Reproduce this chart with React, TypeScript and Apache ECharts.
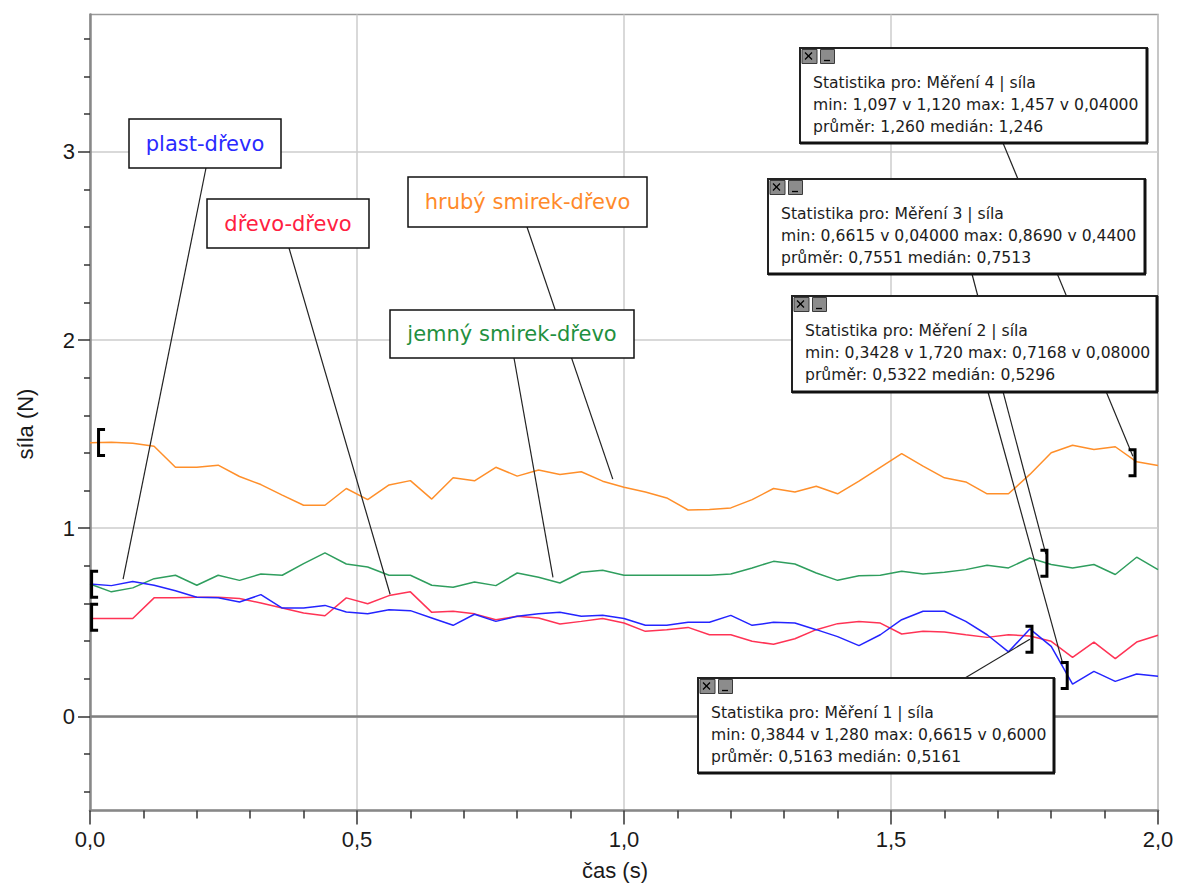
import React, { useEffect, useRef } from "react";
import * as echarts from "echarts";

// time stamps (s), sampled every 0.04 s
const times = [
  0, 0.04, 0.08, 0.12, 0.16, 0.2, 0.24, 0.28, 0.32, 0.36, 0.4, 0.44, 0.48, 0.52, 0.56, 0.6, 0.64,
  0.68, 0.72, 0.76, 0.8, 0.84, 0.88, 0.92, 0.96, 1.0, 1.04, 1.08, 1.12, 1.16, 1.2, 1.24, 1.28,
  1.32, 1.36, 1.4, 1.44, 1.48, 1.52, 1.56, 1.6, 1.64, 1.68, 1.72, 1.76, 1.8, 1.84, 1.88, 1.92,
  1.96, 2.0,
];

// Měření 1 – dřevo-dřevo (red)
const drevoDrevo = [
  0.52, 0.52, 0.52, 0.63, 0.63, 0.633, 0.633, 0.626, 0.603, 0.576, 0.55, 0.535, 0.63, 0.599, 0.642,
  0.662, 0.553, 0.559, 0.545, 0.514, 0.532, 0.523, 0.491, 0.505, 0.52, 0.496, 0.452, 0.461, 0.473,
  0.434, 0.434, 0.399, 0.384, 0.413, 0.461, 0.493, 0.505, 0.496, 0.438, 0.452, 0.449, 0.434, 0.42,
  0.434, 0.427, 0.399, 0.314, 0.395, 0.307, 0.395, 0.431,
];

// Měření 2 – plast-dřevo (blue)
const plastDrevo = [
  0.704, 0.695, 0.717, 0.697, 0.668, 0.633, 0.63, 0.608, 0.647, 0.576, 0.576, 0.59, 0.555, 0.546,
  0.567, 0.562, 0.523, 0.484, 0.543, 0.505, 0.532, 0.546, 0.553, 0.532, 0.537, 0.52, 0.484, 0.484,
  0.5, 0.5, 0.537, 0.484, 0.5, 0.496, 0.461, 0.424, 0.376, 0.434, 0.514, 0.559, 0.559, 0.505, 0.434,
  0.343, 0.465, 0.372, 0.172, 0.239, 0.186, 0.225, 0.213,
];

// Měření 3 – jemný smirek-dřevo (green)
const jemnySmirek = [
  0.704, 0.662, 0.683, 0.732, 0.75, 0.697, 0.75, 0.723, 0.757, 0.75, 0.812, 0.869, 0.81, 0.794,
  0.75, 0.75, 0.697, 0.686, 0.714, 0.695, 0.762, 0.739, 0.709, 0.766, 0.777, 0.75, 0.75, 0.75, 0.75,
  0.75, 0.757, 0.789, 0.824, 0.81, 0.762, 0.723, 0.748, 0.75, 0.771, 0.757, 0.766, 0.78, 0.803,
  0.789, 0.842, 0.807, 0.789, 0.807, 0.754, 0.846, 0.78,
];

// Měření 4 – hrubý smirek-dřevo (orange)
const hrubySmirek = [
  1.454, 1.457, 1.452, 1.436, 1.324, 1.324, 1.335, 1.275, 1.232, 1.176, 1.122, 1.122, 1.211, 1.152,
  1.23, 1.253, 1.155, 1.268, 1.252, 1.324, 1.277, 1.309, 1.286, 1.3, 1.25, 1.218, 1.193, 1.161,
  1.097, 1.099, 1.108, 1.152, 1.211, 1.193, 1.223, 1.183, 1.25, 1.324, 1.397, 1.33, 1.268, 1.246,
  1.183, 1.183, 1.286, 1.401, 1.441, 1.418, 1.433, 1.353, 1.333,
];

const seriesNames = ["dřevo-dřevo", "jemný smirek-dřevo", "plast-dřevo", "hrubý smirek-dřevo"];
const seriesData = [drevoDrevo, jemnySmirek, plastDrevo, hrubySmirek];
const seriesColors = ["#ff3355", "#2f9e5e", "#2424ff", "#ff8f2a"];

const yLabelValues = [0, 1, 2, 3];

// labels: text, colour
const labelTexts = ["plast-dřevo", "dřevo-dřevo", "hrubý smirek-dřevo", "jemný smirek-dřevo"];
const labelColors = ["#2a2aff", "#ff2040", "#ff8a2a", "#1f9040"];

const statTexts = [
  ["Statistika pro: Měření 4 | síla", "min: 1,097 v 1,120 max: 1,457 v 0,04000", "průměr: 1,260 medián: 1,246"],
  ["Statistika pro: Měření 3 | síla", "min: 0,6615 v 0,04000 max: 0,8690 v 0,4400", "průměr: 0,7551 medián: 0,7513"],
  ["Statistika pro: Měření 2 | síla", "min: 0,3428 v 1,720 max: 0,7168 v 0,08000", "průměr: 0,5322 medián: 0,5296"],
  ["Statistika pro: Měření 1 | síla", "min: 0,3844 v 1,280 max: 0,6615 v 0,6000", "průměr: 0,5163 medián: 0,5161"],
];

// selection brackets in data coordinates [t, value, side]
const brackets: [number, number, "L" | "R"][] = [
  [0.016, 1.455, "L"],
  [0.003, 0.702, "L"],
  [0.003, 0.527, "L"],
  [1.957, 1.348, "R"],
  [1.792, 0.814, "R"],
  [1.764, 0.41, "R"],
  [1.83, 0.218, "R"],
];

// leader lines end points in data coordinates
const leaderTargets: [number, number][] = [
  [0.062, 0.729],
  [0.562, 0.649],
  [0.979, 1.261],
  [0.867, 0.739],
  [1.953, 1.383],
  [1.79, 0.862],
  [1.822, 0.277],
  [1.76, 0.41],
];

export default function App() {
  const ref = useRef<HTMLDivElement>(null);

  useEffect(() => {
    document.body.style.margin = "0";
    const chart = echarts.init(ref.current!, null, { renderer: "svg" });
    const axisFont = "Liberation Sans";
    const annoFont = '"DejaVu Sans"';

    chart.setOption({
      animation: false,
      grid: {
        left: 90,
        right: 20,
        top: 14.5,
        bottom: 72.5,
        show: true,
        borderColor: "#9a9a9a",
        borderWidth: 1.5,
        backgroundColor: "#ffffff",
      },
      xAxis: {
        type: "value",
        min: 0,
        max: 2,
        interval: 0.5,
        axisLine: { show: true, onZero: false, lineStyle: { color: "#888888", width: 2.5 } },
        axisTick: { show: true, length: 14, lineStyle: { color: "#333333", width: 1.5 } },
        minorTick: { show: true, splitNumber: 5, length: 8, lineStyle: { color: "#333333", width: 1.5 } },
        axisLabel: {
          formatter: (v: number) => v.toFixed(1).replace(".", ","),
          fontFamily: axisFont,
          fontSize: 22,
          color: "#1a1a1a",
          margin: 18,
        },
        splitLine: { show: true, lineStyle: { color: "#cccccc", width: 1.5 } },
      },
      yAxis: {
        type: "value",
        min: -0.5,
        max: 3.73,
        splitNumber: 4,
        axisLine: { show: true, lineStyle: { color: "#888888", width: 2.5 } },
        axisTick: { show: true, length: 12, customValues: yLabelValues, lineStyle: { color: "#333333", width: 1.5 } },
        minorTick: { show: true, splitNumber: 5, length: 6, lineStyle: { color: "#333333", width: 1.5 } },
        axisLabel: {
          customValues: yLabelValues,
          formatter: (v: number) => (Number.isInteger(v) ? String(v) : ""),
          fontFamily: axisFont,
          fontSize: 22,
          color: "#1a1a1a",
          margin: 15,
        },
        splitLine: { show: true, lineStyle: { color: "#cccccc", width: 1.5 } },
      },
      series: seriesData.map((vals, i) => ({
        type: "line",
        name: seriesNames[i],
        data: times.map((t, k) => [t, vals[k]]),
        showSymbol: false,
        symbol: "none",
        silent: true,
        z: 3,
        lineStyle: { color: seriesColors[i], width: 1.5 },
        itemStyle: { color: seriesColors[i] },
        markLine:
          i === 0
            ? {
                silent: true,
                symbol: ["none", "none"],
                label: { show: false },
                lineStyle: { color: "#808080", width: 2.5, type: "solid" },
                data: [{ yAxis: 0 }],
              }
            : undefined,
      })),
    });

    const px = (t: number, v: number) => chart.convertToPixel({ gridIndex: 0 }, [t, v]) as number[];
    const g: any[] = [];
    const Z = 100;

    // axis names
    g.push({
      type: "text",
      x: 25,
      y: 424,
      rotation: Math.PI / 2,
      z: Z,
      style: { text: "síla (N)", font: `22px "${axisFont}"`, fill: "#1a1a1a", align: "center", verticalAlign: "middle" },
    });
    g.push({
      type: "text",
      x: 615,
      y: 870,
      z: Z,
      style: { text: "čas (s)", font: `22px "${axisFont}"`, fill: "#1a1a1a", align: "center", verticalAlign: "middle" },
    });

    // leader lines
    const leaderStarts: [number, number][] = [
      [206, 168],
      [289, 248],
      [527, 227],
      [514, 358],
      [1003, 143],
      [972, 274],
      [988, 392],
      [965, 678],
    ];
    leaderTargets.forEach(([t, v], i) => {
      const [x2, y2] = px(t, v);
      const [x1, y1] = leaderStarts[i];
      g.push({ type: "line", z: Z, shape: { x1, y1, x2, y2 }, style: { stroke: "#222222", lineWidth: 1.2 } });
    });

    // brackets
    brackets.forEach(([t, v, side]) => {
      const [xc, yc] = px(t, v);
      const d = side === "L" ? 6.5 : -6.5;
      g.push({
        type: "polyline",
        z: Z,
        shape: { points: [[xc + d, yc - 13], [xc, yc - 13], [xc, yc + 13], [xc + d, yc + 13]] },
        style: { stroke: "#000000", lineWidth: 3, fill: null, lineJoin: "miter" },
      });
    });

    // label boxes
    const labelBoxes = [
      [129, 119, 152, 49],
      [207, 199, 162, 49],
      [408, 177, 239, 50],
      [390, 310, 244, 48],
    ];
    labelBoxes.forEach(([x, y, w, h], i) => {
      g.push({ type: "rect", z: Z + 1, shape: { x, y, width: w, height: h }, style: { fill: "#ffffff", stroke: "#111111", lineWidth: 1.5 } });
      g.push({
        type: "text",
        z: Z + 2,
        x: x + w / 2,
        y: y + h / 2,
        style: { text: labelTexts[i], font: `21px ${annoFont}`, fill: labelColors[i], align: "center", verticalAlign: "middle" },
      });
    });

    // statistics boxes
    const statBoxes = [
      [800, 48, 347, 95],
      [768, 179, 377, 95],
      [792, 296, 365, 96],
      [698, 678, 356, 95],
    ];
    statBoxes.forEach(([x, y, w, h], i) => {
      g.push({ type: "rect", z: Z + 1, shape: { x, y, width: w, height: h }, style: { fill: "#ffffff", stroke: "#222222", lineWidth: 2 } });
      g.push({ type: "line", z: Z + 2, shape: { x1: x, y1: y + h, x2: x + w + 1, y2: y + h }, style: { stroke: "#111111", lineWidth: 3 } });
      g.push({ type: "line", z: Z + 2, shape: { x1: x + w, y1: y, x2: x + w, y2: y + h }, style: { stroke: "#111111", lineWidth: 3 } });
      // icons
      g.push({ type: "rect", z: Z + 2, shape: { x: x + 2, y: y + 1.5, width: 15, height: 14 }, style: { fill: "#8c8c8c", stroke: "#3a3a3a", lineWidth: 1 } });
      g.push({ type: "line", z: Z + 3, shape: { x1: x + 5, y1: y + 4.5, x2: x + 12, y2: y + 11.5 }, style: { stroke: "#000000", lineWidth: 1.3 } });
      g.push({ type: "line", z: Z + 3, shape: { x1: x + 12, y1: y + 4.5, x2: x + 5, y2: y + 11.5 }, style: { stroke: "#000000", lineWidth: 1.3 } });
      g.push({ type: "rect", z: Z + 2, shape: { x: x + 20.5, y: y + 1.5, width: 14, height: 14 }, style: { fill: "#8c8c8c", stroke: "#3a3a3a", lineWidth: 1 } });
      g.push({ type: "line", z: Z + 3, shape: { x1: x + 24, y1: y + 12.5, x2: x + 30, y2: y + 12.5 }, style: { stroke: "#000000", lineWidth: 1.3 } });
      const rows = [35, 57, 79];
      statTexts[i].forEach((txt, r) => {
        g.push({
          type: "text",
          z: Z + 3,
          x: x + 13,
          y: y + rows[r],
          style: { text: txt, font: `15.6px ${annoFont}`, fill: "#1c1c1c", align: "left", verticalAlign: "middle" },
        });
      });
    });

    chart.setOption({ graphic: g });

    return () => chart.dispose();
  }, []);

  return <div ref={ref} style={{ width: 1178, height: 883 }} />;
}
